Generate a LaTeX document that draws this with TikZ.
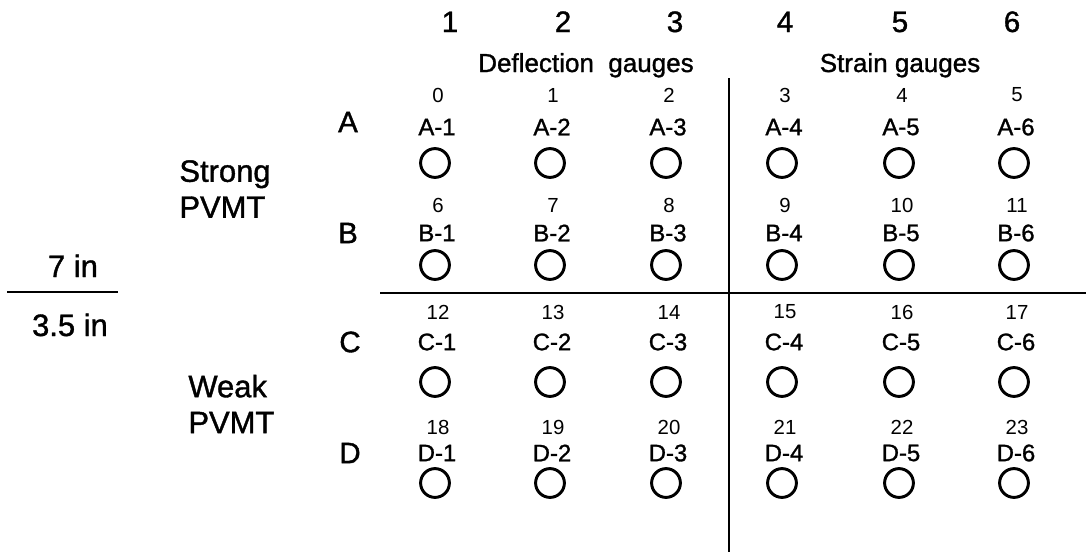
\documentclass[tikz,border=0pt]{standalone}
\usepackage{fontspec}
\setmainfont{Liberation Sans}
\newfontfamily\scanfont{Liberation Sans}[FakeBold=1.2]
\usetikzlibrary{positioning}

\begin{document}
\begin{tikzpicture}[
            x=0.025cm,
            y=-0.025cm,
            every node/.style={inner sep=0pt},
            semithick
        ]

        \tikzstyle{colnum}=[font=\scanfont\fontsize{21pt}{24pt}\selectfont]
        \tikzstyle{rowname}=[font=\scanfont\fontsize{21pt}{24pt}\selectfont]
        \tikzstyle{heading}=[font=\scanfont\fontsize{18.5pt}{21pt}\selectfont, anchor=base]
        \tikzstyle{side}=[font=\scanfont\fontsize{22pt}{25.6pt}\selectfont, align=left, anchor=west]
        \tikzstyle{gauge}=[
            shape=circle,
            draw,
            line width=2.1pt,
            minimum size=0.72cm
        ]
        \tikzstyle{gaugeid}=[font=\scanfont\fontsize{17pt}{20pt}\selectfont]
        \tikzstyle{gaugenum}=[font=\fontsize{14.5pt}{18pt}\selectfont]
        \tikzstyle{divider}=[line width=2pt]

        \useasboundingbox (0,0) rectangle (1086,554);

        % column numbers and headings
        \node[colnum, anchor=base] (c1) at (450,32) {1};
        \node[colnum, anchor=base] (c2) at (563,32) {2};
        \node[colnum, anchor=base] (c3) at (675,32) {3};
        \node[colnum, anchor=base] (c4) at (785,32) {4};
        \node[colnum, anchor=base] (c5) at (900,32) {5};
        \node[colnum, anchor=base] (c6) at (1012,32) {6};

        \node[heading] (defl) at (586,72) {Deflection\ \ gauges};
        \node[heading] (strain) at (900,72) {Strain gauges};

        % row letters
        \node[rowname] (rA) at (348,122) {A};
        \node[rowname] (rB) at (348,233) {B};
        \node[rowname] (rC) at (350,342) {C};
        \node[rowname] (rD) at (350,453) {D};

        \node[side] (strong) at (179,189) {Strong\\PVMT};
        \node[side] (weak) at (188,404) {Weak\\PVMT};

        \node[side, anchor=base] (seven) at (73,277) {7 in};
        \node[side, anchor=base] (half) at (70,336) {3.5 in};

        % gauges
        \foreach \row/\ri/\ny/\ly/\cy in {A/0/95/127/163, B/1/205/233/265, C/2/312/342/382, D/3/427/453/483}{
            \foreach \col/\cx in {1/435, 2/550, 3/666, 4/782, 5/899, 6/1014}{
                \pgfmathtruncatemacro{\num}{6*\ri+\col-1}
                \node[gauge] (g\row\col) at (\cx,\cy) {};
                \node[gaugeid] (id\row\col) at (\cx+2,\ly) {\row-\col};
                \node[gaugenum] (n\row\col) at (\cx+3,\ny) {\num};
            }
        }

        % dividing lines
        \coordinate (vtop) at (729,78);
        \coordinate (vbot) at (729,552);
        \coordinate (hleft) at (380,293);
        \coordinate (hright) at (1086,293);
        \coordinate (sleft) at (7,292);
        \coordinate (sright) at (118,292);

        \draw[divider] (vtop) -- (vbot);
        \draw[divider] (hleft) -- (hright);
        \draw[divider] (sleft) -- (sright);

    \end{tikzpicture}
\end{document}
